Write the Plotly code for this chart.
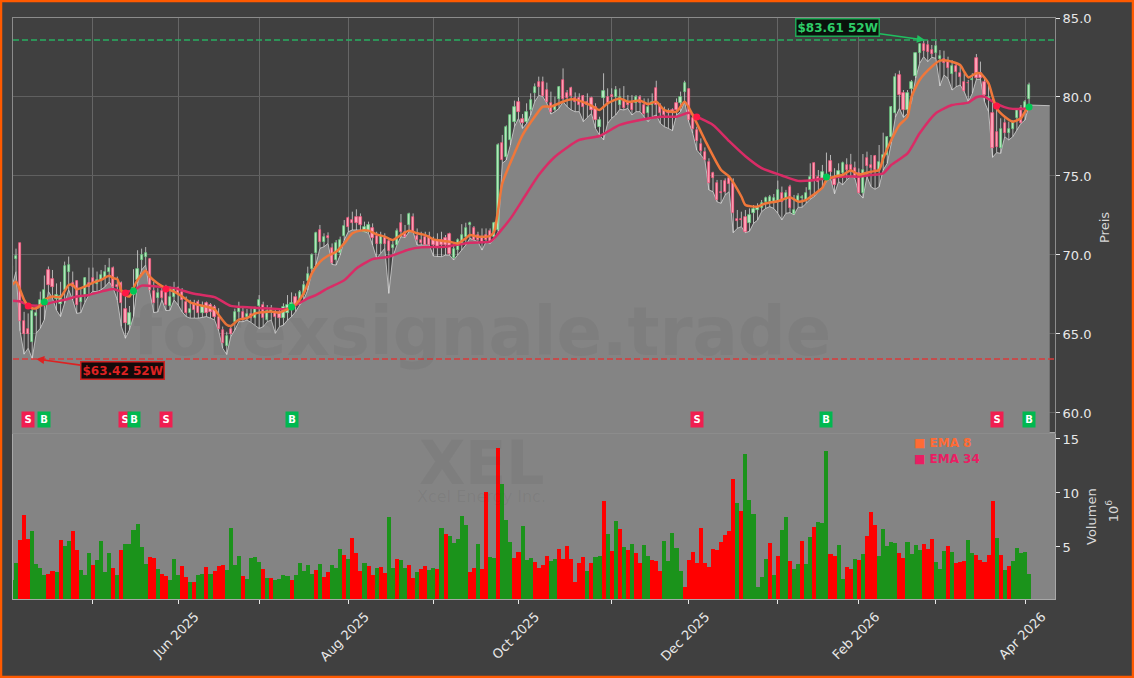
import plotly.graph_objects as go

# Trading-session index of every bar (the chart's x axis has no gaps for weekends)
bar_index = list(range(-1, 251))

opens = [
 69.0,69.75,70.74,65.83,65.3,64.48,66.16,66.73,67.05,69.05,
 68.5,67.22,66.9,67.8,68.9,68.2,68.36,67.0,67.47,68.2,
 68.53,68.15,68.4,68.53,68.9,69.16,68.1,68.21,66.6,65.57,
 67.47,68.4,69.7,69.9,69.73,67.75,67.26,67.7,67.9,66.8,
 67.37,67.9,67.68,67.0,66.35,66.95,67.05,66.35,66.95,66.84,
 66.73,66.06,65.26,64.26,65.3,65.78,66.37,66.41,66.09,66.24,
 65.99,66.79,66.83,65.88,66.37,66.3,66.41,65.99,66.3,66.52,
 67.36,67.15,67.46,68.35,69.1,70.1,71.58,70.84,71.22,70.46,
 69.68,70.1,71.2,72.32,72.21,72.42,72.38,71.47,71.47,71.68,
 71.2,70.69,71.16,70.9,70.42,70.63,72.0,71.47,71.9,72.38,
 71.2,70.95,71.16,71.2,70.95,70.95,70.95,71.05,71.3,69.78,
 70.31,70.63,71.16,71.9,71.68,71.26,71.16,71.26,71.54,71.15,
 71.58,77.07,76.2,77.28,78.44,79.7,78.58,78.44,79.18,80.27,
 80.97,80.93,80.44,79.64,79.18,79.85,81.07,80.23,80.55,79.91,
 79.91,80.06,79.7,79.91,79.39,78.12,79.91,80.02,80.12,80.02,
 79.49,79.77,79.7,79.64,79.6,79.98,79.49,78.96,79.49,80.55,
 79.49,79.18,79.07,79.18,79.6,79.6,80.29,80.48,78.65,77.91,
 77.0,76.54,75.91,75.2,74.58,74.0,74.7,74.85,74.53,72.3,
 72.3,72.42,72.0,72.68,72.85,72.95,73.37,73.37,73.27,73.37,
 73.91,73.49,74.33,72.6,73.38,73.59,73.49,74.12,75.8,74.96,
 74.75,74.79,75.95,74.86,74.96,75.17,75.7,75.7,75.49,75.17,
 73.9,76.12,75.7,76.29,75.38,75.8,76.33,77.49,78.97,81.39,
 80.23,79.18,80.48,81.33,82.76,83.35,83.29,82.97,82.81,82.38,
 82.38,82.24,81.46,81.96,81.5,80.97,80.9,81.08,82.45,81.5,
 80.97,79.9,79.0,77.81,76.75,78.38,77.7,78.0,78.65,79.28,
 79.18,79.85]
highs = [
 69.5,70.4,70.76,66.4,66.3,66.6,66.84,67.68,68.7,69.27,
 69.05,68.2,68.3,69.58,69.9,68.95,68.4,67.9,68.6,69.2,
 69.2,68.95,69.05,69.37,69.8,69.27,68.63,68.32,67.37,66.77,
 69.1,70.3,70.4,70.5,69.8,68.3,67.9,68.1,68.11,68.0,
 68.3,68.0,67.9,67.37,67.16,67.16,67.16,67.05,67.05,66.95,
 66.84,66.63,65.47,65.14,65.56,66.6,67.04,66.73,66.58,66.62,
 66.73,67.46,67.04,66.83,66.83,66.62,66.62,66.94,67.46,67.63,
 67.57,67.78,68.35,69.26,70.1,71.47,71.9,71.37,71.43,70.73,
 70.94,71.16,72.21,72.42,72.74,72.89,72.63,72.11,72.11,72.0,
 71.47,71.47,71.37,71.05,70.95,71.68,72.59,71.9,72.68,72.63,
 71.68,71.47,71.47,71.47,71.16,71.37,71.47,71.26,71.41,70.73,
 71.05,71.95,72.04,72.11,71.83,71.47,71.68,71.68,71.68,72.1,
 77.07,77.6,78.2,78.86,79.77,79.98,78.92,79.6,80.23,80.86,
 81.29,81.29,80.91,80.34,80.02,80.69,81.81,80.44,80.65,80.29,
 80.23,80.12,80.23,80.02,79.6,78.75,81.5,80.55,80.55,80.69,
 80.55,80.69,80.12,80.12,80.12,80.12,79.91,79.91,80.23,81.03,
 79.6,79.39,79.28,79.28,79.91,80.34,81.03,80.55,78.86,78.12,
 77.38,76.81,76.12,75.27,74.75,74.75,74.85,74.96,74.85,72.85,
 72.74,72.85,72.95,73.16,73.27,73.48,73.69,73.8,73.86,74.71,
 74.33,74.12,74.44,73.8,73.91,73.8,74.29,75.8,75.85,75.38,
 75.7,76.48,76.33,75.49,75.8,75.91,76.12,76.4,75.91,75.48,
 76.39,76.54,76.33,76.33,76.96,77.74,77.53,79.43,81.5,81.67,
 80.44,80.44,81.08,82.81,83.4,83.61,83.61,83.29,83.56,82.97,
 82.93,82.55,82.34,82.13,82.03,81.5,81.08,81.5,82.72,82.24,
 81.29,80.76,80.02,79.49,78.65,78.65,78.44,78.54,79.28,79.49,
 79.81,80.91]
lows = [
 68.0,68.95,65.2,63.72,64.1,63.42,65.05,65.36,65.9,67.7,
 67.26,66.5,66.1,66.95,67.8,67.15,66.3,66.35,67.0,67.47,
 67.7,67.68,67.8,68.0,68.3,67.9,67.15,65.47,64.73,65.26,
 66.1,68.2,69.05,69.37,67.68,66.35,66.4,67.15,66.48,66.5,
 67.15,66.84,66.4,66.1,66.0,66.0,66.0,66.05,66.1,66.0,
 65.89,65.2,64.1,63.7,64.83,65.25,65.78,65.78,65.88,65.73,
 65.56,65.35,65.46,65.78,65.88,65.04,65.46,65.56,65.88,66.09,
 66.41,66.83,67.15,67.78,68.94,69.36,70.42,70.52,70.73,69.4,
 69.36,70.0,70.95,71.47,71.58,71.58,71.58,71.47,71.37,70.63,
 69.78,70.1,70.42,67.57,69.89,70.63,71.16,71.1,71.47,71.47,
 70.63,70.63,70.63,70.63,69.93,69.89,69.89,69.99,69.99,69.68,
 69.99,70.31,70.63,71.05,70.95,70.84,70.31,70.84,70.73,70.95,
 71.5,75.8,76.01,76.96,78.12,78.65,78.01,78.33,78.86,79.7,
 80.1,80.02,79.6,78.92,79.07,79.28,79.7,79.39,79.18,79.07,
 79.07,78.44,78.71,78.96,78.01,77.59,77.28,78.33,78.65,78.86,
 79.22,79.18,79.28,78.86,79.07,79.07,78.75,78.44,78.75,78.86,
 78.33,78.12,78.01,77.87,78.86,79.07,79.7,78.44,77.7,76.64,
 76.33,76.01,74.11,74.01,73.37,73.27,73.8,74.01,71.41,71.69,
 71.79,71.41,71.5,72.0,72.21,72.74,72.95,73.06,72.95,72.64,
 72.22,72.64,72.68,72.54,73.02,73.02,73.27,73.53,73.7,74.01,
 74.22,74.65,74.86,73.87,74.65,74.44,74.75,74.96,74.86,73.9,
 73.6,74.96,74.32,74.16,74.32,75.38,75.8,77.07,78.71,79.28,
 78.71,78.97,79.7,81.18,82.13,82.55,82.24,82.51,82.45,80.7,
 81.39,81.18,80.44,80.65,80.76,80.34,79.7,80.23,81.12,81.12,
 79.7,79.07,76.18,76.48,76.43,77.49,77.28,77.49,77.91,78.33,
 78.54,79.49]
closes = [
 69.3,69.95,65.8,64.98,64.98,66.46,66.33,67.16,67.8,68.1,
 68.0,67.47,67.4,69.27,69.37,68.0,66.84,67.37,68.53,68.0,
 68.2,68.4,68.74,68.95,69.16,68.0,68.0,66.95,65.68,66.31,
 67.9,69.1,70.0,70.1,67.8,66.95,67.6,67.3,66.84,67.33,
 67.9,67.5,67.15,66.35,66.56,66.5,66.3,66.77,66.31,66.42,
 66.1,65.3,64.4,64.84,65.0,66.37,66.66,65.88,66.24,65.99,
 66.56,67.15,66.03,66.45,66.62,66.09,65.99,66.73,66.83,66.94,
 66.83,67.63,68.1,68.77,70.0,71.41,70.84,71.11,71.05,69.47,
 70.73,70.95,71.83,71.79,72.0,72.04,71.9,71.79,71.9,71.05,
 70.69,71.2,70.69,70.27,70.63,71.54,71.47,71.16,72.59,71.47,
 70.95,70.73,70.63,70.63,70.63,70.42,70.63,70.63,70.06,70.35,
 70.95,71.26,71.73,72.0,70.95,70.95,70.84,70.95,70.84,72.0,
 76.96,76.01,78.1,78.86,79.39,79.07,78.33,79.07,79.81,80.61,
 80.61,80.06,79.7,79.07,79.49,80.61,79.85,79.91,80.06,79.7,
 79.49,79.39,79.49,79.18,78.54,78.54,80.38,79.6,80.0,80.44,
 79.97,79.28,79.49,79.18,79.98,79.6,78.92,79.39,79.7,79.49,
 78.96,78.86,79.0,79.0,79.18,80.02,80.91,78.54,77.95,77.23,
 76.6,76.01,74.58,74.9,73.48,73.9,74.01,74.5,72.64,72.15,
 72.2,71.47,72.5,72.91,73.06,73.31,73.58,73.65,73.58,74.1,
 73.38,73.95,72.96,72.85,73.74,73.7,73.91,74.96,74.75,74.65,
 75.28,74.96,75.28,74.44,75.34,75.8,75.38,75.38,75.0,73.9,
 75.38,75.65,75.53,75.38,75.91,76.33,77.49,79.39,81.29,80.13,
 79.18,80.23,80.97,82.76,83.35,82.93,82.87,82.72,83.23,82.59,
 82.14,81.81,81.96,81.6,81.29,80.4,80.86,81.12,81.18,81.18,
 80.1,80.02,76.75,76.85,77.95,77.7,77.95,78.44,79.18,78.33,
 79.7,80.76]
volumes = [
 1.94,3.48,5.64,7.96,5.74,6.48,3.42,3.05,2.4,2.5,
 2.77,2.68,5.64,5.09,5.55,6.48,4.72,2.87,2.4,4.44,
 3.33,3.79,5.55,2.68,4.44,3.05,2.4,4.72,5.27,5.27,
 6.57,7.13,5.0,3.42,4.07,3.98,2.96,2.5,2.31,1.94,
 3.89,2.4,3.24,2.22,1.76,1.76,2.4,2.5,3.14,2.5,
 2.77,3.24,3.33,2.87,6.76,3.33,4.16,2.31,2.03,3.98,
 4.07,3.61,2.96,2.13,2.13,1.94,2.03,2.4,2.31,1.94,
 2.4,3.52,2.77,3.33,2.5,2.87,3.42,2.22,2.68,3.33,
 3.05,4.81,4.26,3.89,5.83,4.44,2.77,3.52,3.24,2.4,
 3.05,3.14,2.56,7.77,3.05,3.89,3.79,3.05,3.33,2.13,
 2.68,2.96,3.24,2.87,3.05,2.96,6.76,6.2,6.0,5.37,
 5.74,7.87,7.03,2.68,3.05,5.27,2.96,10.09,4.07,3.98,
 14.16,10.83,7.5,5.46,3.98,4.53,6.94,3.79,3.98,3.61,
 3.05,3.33,4.16,3.7,3.89,4.81,3.89,5.09,3.89,1.76,
 3.52,4.07,2.77,3.52,4.07,4.16,9.26,6.2,4.63,7.4,
 6.66,5.0,4.72,5.27,4.44,3.52,5.18,4.16,3.79,3.7,
 2.77,5.55,3.7,6.29,4.9,2.77,1.29,3.79,4.53,3.52,
 6.76,3.52,3.14,4.81,4.72,5.46,6.11,6.48,11.29,9.07,
 8.33,13.61,9.35,8.05,1.29,2.22,3.89,5.37,2.41,4.17,
 6.57,7.78,3.7,2.96,3.43,5.55,3.43,5.92,6.85,7.31,
 7.22,13.89,4.35,4.17,5.18,2.04,3.15,2.96,3.89,3.8,
 4.35,6.02,8.24,7.04,4.17,6.67,5.09,5.46,5.37,4.44,
 3.98,5.46,4.35,5.18,4.72,5.28,4.81,5.74,3.61,2.96,
 4.63,5.09,4.54,3.52,3.61,3.7,5.65,4.44,4.26,3.8,
 3.61,4.26,9.26,5.83,4.26,2.87,3.24,3.7,4.91,4.44,
 4.54,2.5]
volume_dir = ("GGRRRGGGGR" "RGRGGRRGGG" "RGGGGRGRGG" "GGGGRRGRRG"
              "GGRRGRGGRG" "RRRGGGGRGG" "GGRGRGGGGR" "GGGGGRGRRG"
              "GGRGRRRGRR" "GRRGGRGGRR" "GRRGGRGRGG" "GGGRRGRRGG"
              "RGGGRRGGGR" "RRRGGRRRRR" "RRGRGGRGRG" "RGRGRRGGRR"
              "RGGGGGRRRR" "RRRRRRRRRG" "RGGGGGGRGR" "GGRGGRGGRG"
              "GGRRGGRRGR" "GRRRGGGGGR" "RGGGGRRRGG" "GRGRRRGGRR"
              "RRRGRGRGGG" "GG")

ema8_idx = [-1,0,1,2,3,4,5,6,7,9,11,13,14,15,17,19,21,23,24,25,26,27,28,29,30,32,33,35,37,39,41,43,45,47,49,50,52,53,55,57,59,61,63,65,67,68,69,71,73,75,77,79,81,83,85,87,89,91,93,95,97,99,101,103,105,107,109,111,112,114,116,117,118,119,120,123,125,128,130,132,135,137,139,142,144,146,149,151,154,156,158,160,163,165,167,170,174,176,179,180,183,185,188,191,193,195,197,199,200,202,204,206,208,211,213,214,216,218,220,221,223,226,228,230,233,234,235,237,238,240,241,242,244,246,248,249,250]
ema8_val = [68.1,68.3,67.8,67.16,66.78,66.63,66.63,66.8,67.16,67.37,67.33,68.1,68.11,67.83,68.0,68.25,68.42,68.68,68.53,68.47,67.75,67.47,67.37,67.9,68.42,69.0,68.63,68.2,67.9,67.68,67.37,67.0,66.84,66.73,66.56,66.2,65.58,65.5,65.9,66.0,66.3,66.38,66.42,66.35,66.56,66.7,66.87,67.57,68.83,69.57,69.95,70.2,70.73,71.37,71.54,71.54,71.3,71.16,70.95,71.26,71.54,71.37,71.26,70.99,70.9,70.84,70.73,71.05,71.26,71.16,71.16,71.2,71.47,72.9,74.53,76.43,77.59,78.75,79.39,79.39,79.7,79.85,79.77,79.45,79.18,79.6,79.91,79.7,79.77,79.55,79.7,79.17,79.07,79.7,78.86,77.28,75.38,74.95,73.7,73.16,73.06,73.27,73.4,73.65,73.38,73.49,73.85,74.25,74.75,74.96,75.07,75.34,75.1,75.27,75.38,76.1,77.28,78.23,78.75,80.02,81.08,81.92,82.3,82.3,82.02,81.6,81.24,81.5,81.5,80.86,80.02,79.28,78.75,78.44,78.65,79.07,79.35]
ema34_idx = [-1,1,3,6,9,12,15,18,21,24,26,29,31,35,39,44,49,53,56,61,66,68,72,74,77,81,84,88,92,97,100,106,112,117,118,122,125,129,133,139,144,149,154,159,163,166,168,172,176,180,184,189,193,196,200,205,208,211,214,216,220,223,227,231,235,237,239,242,245,248,250]
ema34_val = [67.1,67.05,66.84,66.8,67.0,67.16,67.37,67.47,67.68,67.85,67.68,67.75,68.06,68.0,67.9,67.54,67.33,66.78,66.7,66.63,66.56,66.68,67.25,67.46,67.9,68.4,69.15,69.74,69.89,70.35,70.48,70.52,70.78,70.84,71.05,72.3,73.48,75.06,76.22,77.28,77.53,78.23,78.54,78.75,78.75,79.0,78.75,78.23,77.2,76.25,75.5,75.03,74.69,74.71,74.86,74.96,74.96,75.06,75.17,75.7,76.43,77.7,78.97,79.49,79.64,79.98,80.02,79.56,79.28,79.24,79.28]

sell_idx = [3, 27, 37, 168, 242]
sell_price = [66.77, 67.6, 67.85, 78.73, 79.43]
buy_idx = [7, 29, 68, 200, 250]
buy_price = [67.03, 67.72, 66.7, 74.94, 79.37]

low_52w = 63.42
high_52w = 83.61
area_end_idx = 255.1
area_end_price = 79.45

label_tick_idx = [40, 82, 124, 166, 208, 249]
label_tick_text = ["Jun 2025", "Aug 2025", "Oct 2025", "Dec 2025", "Feb 2026", "Apr 2026"]
minor_tick_idx = [19, 60, 103, 147, 188, 227]
price_ticks = [60, 65, 70, 75, 80, 85]
volume_ticks = [5, 10, 15]

assert len(opens) == len(highs) == len(lows) == len(closes) == len(volumes) == len(bar_index) == len(volume_dir)
assert len(ema8_idx) == len(ema8_val) and len(ema34_idx) == len(ema34_val)

BG = "#404040"
AREA = "#848484"
FONT = "DejaVu Sans"
ORANGE = "#f0773a"
PINK = "#d92c66"

wick_x, wick_y = [], []
for i, h, l in zip(bar_index, highs, lows):
    wick_x += [i, i, None]
    wick_y += [l, h, None]
up = [c >= o for o, c in zip(opens, closes)]

fig = go.Figure()
# lows area (base subplot so that it stays under the candle bodies)
fig.add_trace(go.Scatter(x=bar_index + [area_end_idx], y=lows + [area_end_price], mode="lines",
                         line=dict(color="rgba(205,205,205,0.85)", width=1),
                         fill="tozeroy", fillcolor=AREA, xaxis="x2", yaxis="y", showlegend=False))
fig.add_trace(go.Scatter(x=wick_x, y=wick_y, mode="lines", line=dict(color="rgba(222,222,222,0.75)", width=1),
                         connectgaps=False, xaxis="x2", yaxis="y", showlegend=False))
# candle bodies
fig.add_trace(go.Bar(x=bar_index, y=[abs(c - o) for o, c in zip(opens, closes)],
                     base=[min(o, c) for o, c in zip(opens, closes)], width=0.55,
                     marker=dict(color=["#bce9c4" if u else "#ffa3b8" for u in up],
                                 line=dict(color=["#62cf7d" if u else "#f8527a" for u in up], width=0.7)),
                     xaxis="x2", yaxis="y3", showlegend=False))
fig.add_trace(go.Scatter(x=ema34_idx, y=ema34_val, mode="lines", line=dict(color=PINK, width=2.5, shape="spline", smoothing=0.6),
                         name="EMA 34", xaxis="x2", yaxis="y3", showlegend=False))
fig.add_trace(go.Scatter(x=ema8_idx, y=ema8_val, mode="lines", line=dict(color=ORANGE, width=2.5, shape="spline", smoothing=0.6),
                         name="EMA 8", xaxis="x2", yaxis="y3", showlegend=False))
fig.add_trace(go.Scatter(x=sell_idx, y=sell_price, mode="markers", marker=dict(color="#ff1744", size=7),
                         xaxis="x2", yaxis="y3", showlegend=False))
fig.add_trace(go.Scatter(x=buy_idx, y=buy_price, mode="markers", marker=dict(color="#00c853", size=7),
                         xaxis="x2", yaxis="y3", showlegend=False))
# volume
fig.add_trace(go.Bar(x=bar_index, y=volumes, width=1.0,
                     marker=dict(color=["#ff0000" if d == "R" else "#1b931b" for d in volume_dir], line=dict(width=0)),
                     xaxis="x", yaxis="y2", showlegend=False))

PANEL_SPLIT = 166 / 581
WM = "rgba(50,50,50,0.07)"
MID = dict(xanchor="center", yanchor="middle")
annotations = []
for txt, yfrac, size, xfrac in [("forexsignale.trade", 0.46, 67, 0.45), ("XEL", 0.234, 60, 0.45)]:
    annotations.append(dict(text=f"<b>{txt}</b>", xref="paper", yref="paper", x=xfrac, y=yfrac, showarrow=False,
                            font=dict(family=FONT, size=size, color=WM), **MID))
annotations.append(dict(text="Xcel Energy Inc.", xref="paper", yref="paper", x=0.45, y=0.1756, showarrow=False,
                        font=dict(family=FONT, size=16, color=WM), **MID))
for i in sell_idx:
    annotations.append(dict(text="<b>S</b>", x=i, y=59.56, xref="x2", yref="y", showarrow=False, width=12, height=15,
                            bgcolor="#f01e50", borderpad=0, font=dict(family=FONT, size=10, color="white")))
for i in buy_idx:
    annotations.append(dict(text="<b>B</b>", x=i, y=59.56, xref="x2", yref="y", showarrow=False, width=12, height=15,
                            bgcolor="#00b850", borderpad=0, font=dict(family=FONT, size=10, color="white")))
annotations.append(dict(text=f"<b>${high_52w} 52W</b>", x=224.3, y=high_52w, xref="x2", yref="y", ax=-87, ay=-12,
                        showarrow=True, arrowhead=2, arrowsize=1, arrowwidth=1.6, arrowcolor="#1fc060",
                        bgcolor="#0a120c", bordercolor="#1fa855", borderwidth=1.5, borderpad=1,
                        font=dict(family=FONT, size=12, color="#2ecc68")))
annotations.append(dict(text=f"<b>${low_52w} 52W</b>", x=5, y=low_52w, xref="x2", yref="y", ax=86, ay=12,
                        showarrow=True, arrowhead=2, arrowsize=1, arrowwidth=1.6, arrowcolor="#dd2222",
                        bgcolor="#140a0a", bordercolor="#cc2222", borderwidth=1.5, borderpad=1,
                        font=dict(family=FONT, size=12, color="#dd2222")))
annotations.append(dict(text="<b>■ EMA 8</b>", xref="paper", yref="paper", x=0.8626, y=0.2685, xanchor="left", yanchor="middle",
                        showarrow=False, font=dict(family=FONT, size=12, color="#ff6b35")))
annotations.append(dict(text="<b>■ EMA 34</b>", xref="paper", yref="paper", x=0.8626, y=0.2403, xanchor="left", yanchor="middle",
                        showarrow=False, font=dict(family=FONT, size=12, color="#e91e63")))
annotations.append(dict(text="Preis", xref="paper", yref="paper", x=1.0480, y=0.6386, textangle=-90, showarrow=False,
                        font=dict(family=FONT, size=13, color="#d8d8d8"), **MID))
annotations.append(dict(text="Volumen", xref="paper", yref="paper", x=1.0355, y=0.1429, textangle=-90, showarrow=False,
                        font=dict(family=FONT, size=13, color="#d8d8d8"), **MID))
annotations.append(dict(text="10<sup>6</sup>", xref="paper", yref="paper", x=1.0550, y=0.1515, textangle=-90, showarrow=False,
                        font=dict(family=FONT, size=13, color="#d8d8d8"), **MID))

shapes = [
    dict(type="rect", xref="x domain", yref="y2 domain", x0=0, x1=1, y0=0, y1=1, fillcolor=AREA, line_width=0, layer="below"),
    dict(type="line", xref="x2 domain", yref="y", x0=0, x1=1, y0=high_52w, y1=high_52w,
         line=dict(color="#27ae60", width=1.5, dash="6px,3px")),
    dict(type="line", xref="x2 domain", yref="y", x0=0, x1=1, y0=low_52w, y1=low_52w,
         line=dict(color="#d93a3a", width=1.5, dash="6px,3px")),
    dict(type="rect", xref="paper", yref="paper", x0=-12 / 1042, x1=1120 / 1042, y0=-78 / 581, y1=1 + 17 / 581,
         line=dict(color="#ff5a00", width=2.5), fillcolor="rgba(0,0,0,0)", layer="above"),
]

axis_tick = dict(ticks="outside", ticklen=4, tickwidth=1, tickcolor="#e8e8e8",
                 tickfont=dict(family=FONT, size=13, color="#e8e8e8"))
X_RANGE = [-0.74, 256.4]
all_ticks = sorted(label_tick_idx + minor_tick_idx)
fig.update_layout(
    width=1134, height=678, autosize=False,
    margin=dict(l=13, r=79, t=18, b=79, pad=0),
    paper_bgcolor=BG, plot_bgcolor=BG,
    barmode="overlay", bargap=0, showlegend=False, hovermode=False,
    font=dict(family=FONT),
    annotations=annotations, shapes=shapes,
    xaxis=dict(domain=[0, 1], range=X_RANGE, anchor="y2", tickmode="array", tickvals=label_tick_idx, ticktext=label_tick_text,
               minor=dict(tickmode="array", tickvals=minor_tick_idx, ticks="outside", ticklen=4, tickwidth=1, tickcolor="#e8e8e8", showgrid=False),
               tickangle=-45, ticklabelshift=17, showgrid=False, zeroline=False,
               showline=True, linecolor="#a8a8a8", linewidth=1, mirror=True, **axis_tick),
    xaxis2=dict(domain=[0, 1], range=X_RANGE, anchor="y", tickmode="array", tickvals=all_ticks, showticklabels=False,
                ticks="", showgrid=True, gridcolor="#666666", gridwidth=0.8, zeroline=False, showline=True,
                linecolor="#8c8c8c", linewidth=1, mirror=True),
    yaxis=dict(domain=[PANEL_SPLIT, 1], range=[58.73, 85], side="right", anchor="x2", tickmode="array",
               tickvals=price_ticks, ticktext=[f"{v:.1f}" for v in price_ticks], showgrid=True, gridcolor="#606060",
               gridwidth=0.8, zeroline=False, showline=True, linecolor="#8c8c8c", linewidth=1, mirror=True, **axis_tick),
    yaxis3=dict(domain=[PANEL_SPLIT, 1], range=[58.73, 85], overlaying="y", side="right", anchor="x2",
                visible=False, showgrid=False, zeroline=False),
    yaxis2=dict(domain=[0, PANEL_SPLIT], range=[0.185, 15.55], side="right", anchor="x", tickmode="array",
                tickvals=volume_ticks, showgrid=False, zeroline=False, showline=True, linecolor="#a8a8a8", linewidth=1,
                mirror=True, **axis_tick),
)

fig.write_html("out.html", config=dict(displayModeBar=False),
               post_script="document.body.style.margin='0';document.documentElement.style.overflow='hidden';")
